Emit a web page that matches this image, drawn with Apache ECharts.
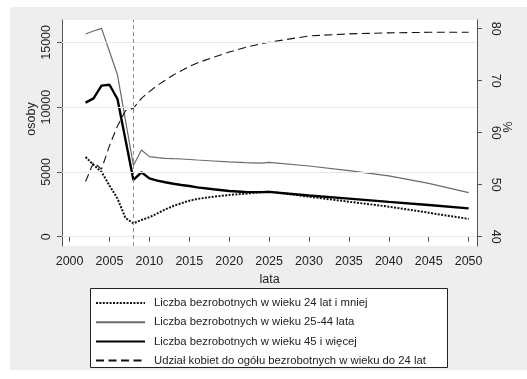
<!DOCTYPE html>
<html>
<head>
<meta charset="utf-8">
<script src="https://cdn.jsdelivr.net/npm/echarts@6/dist/echarts.min.js"></script>
<style>
html,body{margin:0;padding:0;background:#fff;}
#chart{width:527px;height:379px;}
</style>
</head>
<body>
<div id="chart"></div>
<script>
// ---- data ----
const years = [2002,2003,2004,2005,2006,2007,2008,2009,2010,2011,2012,2013,2014,2015,2016,2018,2020,2022,2024,2025,2030,2035,2040,2045,2050];
const under24 = [6150,5550,5000,3950,2950,1450,1030,1290,1500,1800,2110,2370,2580,2780,2910,3090,3220,3320,3430,3480,3090,2700,2320,1850,1370];
const age25to44 = [15650,15880,16085,14300,12500,9000,5500,6690,6180,6110,6050,6020,6000,5960,5920,5845,5770,5715,5680,5740,5460,5100,4690,4120,3400];
const age45plus = [10350,10680,11660,11730,10630,7500,4380,4970,4500,4330,4200,4090,3990,3910,3810,3660,3530,3450,3440,3460,3180,2940,2690,2450,2190];
const womenShare = [50.6,54.3,53.0,57.5,61.3,64.2,64.7,66.6,67.9,69.1,70.1,71.1,71.9,72.7,73.4,74.5,75.5,76.4,77.1,77.4,78.6,79.0,79.2,79.3,79.3];

const seriesNames = [
  'Liczba bezrobotnych w wieku 24 lat i mniej',
  'Liczba bezrobotnych w wieku 25-44 lata',
  'Liczba bezrobotnych w wieku 45 i więcej',
  'Udział kobiet do ogółu bezrobotnych w wieku do 24 lat'
];
const xTicks = [2000,2005,2010,2015,2020,2025,2030,2035,2040,2045,2050];
const leftTicks = [0,5000,10000,15000];
const rightTicks = [40,50,60,70,80];
const markerYear = 2008;

const pairs = arr => years.map((y,i) => [y, arr[i]]);
const FONT = "'Liberation Sans', Arial, Helvetica, sans-serif";
const AX = '#555555';

const chart = echarts.init(document.getElementById('chart'), null, {renderer:'canvas'});
chart.setOption({
  animation: false,
  backgroundColor: '#eeeeee',
  textStyle: {fontFamily: FONT},
  grid: {left: 62, right: 50, top: 20, bottom: 133, show: true, backgroundColor: '#ffffff', borderWidth: 0},
  graphic: {elements: [
    {type:'rect', left:0, top:0, shape:{width:10, height:379}, style:{fill:'#ffffff'}, silent:true},
    {type:'rect', left:0, top:0, shape:{width:527, height:7}, style:{fill:'#ffffff'}, silent:true},
    {type:'rect', left:0, top:370, shape:{width:527, height:9}, style:{fill:'#ffffff'}, silent:true},
    {type:'rect', x:90.5, y:288.5, shape:{width:357, height:79}, style:{fill:'#ffffff', stroke:'#222222', lineWidth:1}, z:1, silent:true},
    {type:'text', x:32, y:119, rotation:Math.PI/2, style:{text:'osoby', font:'12.5px ' + FONT, fill:'#222', align:'center', verticalAlign:'middle'}, silent:true},
    {type:'text', x:506, y:127, rotation:-Math.PI/2, style:{text:'%', font:'12.5px ' + FONT, fill:'#222', align:'center', verticalAlign:'middle'}, silent:true}
  ]},
  legend: {
    z: 10,
    orient: 'vertical', left: 95, top: 296, padding: 0,
    itemWidth: 49, itemHeight: 14, itemGap: 5.2,
    data: seriesNames,
    itemStyle: {opacity: 0},
    textStyle: {fontSize: 11.3, color: '#222', fontFamily: FONT, padding: [0,0,0,4], lineHeight: 14}
  },
  xAxis: {
    type: 'value', min: 1999.05, max: 2051.05,
    name: 'lata', nameLocation: 'middle', nameGap: 19,
    nameTextStyle: {fontSize: 12.5, color: '#222', fontFamily: FONT},
    axisLine: {show: true, lineStyle: {color: AX, width: 1}},
    axisTick: {show: true, length: 5, customValues: xTicks, lineStyle: {color: AX}},
    axisLabel: {customValues: xTicks, fontSize: 12.5, color: '#222', margin: 9, formatter: v => String(v)},
    splitLine: {show: false}
  },
  yAxis: [
    {
      type: 'value', position: 'left', min: -718, max: 16729,
      axisLine: {show: true, lineStyle: {color: AX, width: 1}},
      axisTick: {show: true, length: 5, customValues: leftTicks, lineStyle: {color: AX}},
      axisLabel: {customValues: leftTicks, rotate: 90, fontSize: 12.5, color: '#222', margin: 9, formatter: v => String(v)},
      splitLine: {show: false}
    },
    {
      type: 'value', position: 'right', min: 38.21, max: 81.67,
      axisLine: {show: true, lineStyle: {color: AX, width: 1}},
      axisTick: {show: true, length: 5, customValues: rightTicks, lineStyle: {color: AX}},
      axisLabel: {customValues: rightTicks, rotate: -90, fontSize: 12.5, color: '#222', margin: 12, formatter: v => String(v)},
      splitLine: {show: false}
    }
  ],
  series: [
    {
      name: 'guides', type: 'line', data: [], z: 1, silent: true,
      markLine: {
        silent: true, symbol: ['none','none'], label: {show: false},
        data: leftTicks.map(v => ({yAxis: v, lineStyle: {color: '#e8e8e8', width: 1, type: 'solid'}}))
          .concat([{xAxis: markerYear, lineStyle: {color: '#8a8a8a', width: 1, type: [4,3]}}])
      }
    },
    {
      name: seriesNames[0], type: 'line', yAxisIndex: 0, data: pairs(under24), symbol: 'none', z: 3,
      lineStyle: {color: '#111', width: 2, type: [2,1.4]}, itemStyle: {color: '#111'}
    },
    {
      name: seriesNames[1], type: 'line', yAxisIndex: 0, data: pairs(age25to44), symbol: 'none', z: 3,
      lineStyle: {color: '#6a6a6a', width: 1.2}, itemStyle: {color: '#6a6a6a'}
    },
    {
      name: seriesNames[2], type: 'line', yAxisIndex: 0, data: pairs(age45plus), symbol: 'none', z: 3,
      lineStyle: {color: '#000', width: 2.4}, itemStyle: {color: '#000'}
    },
    {
      name: seriesNames[3], type: 'line', yAxisIndex: 1, data: pairs(womenShare), symbol: 'none', z: 3,
      lineStyle: {color: '#111', width: 1.1, type: [8,4.5]}, itemStyle: {color: '#111'}
    }
  ]
});
</script>
</body>
</html>
